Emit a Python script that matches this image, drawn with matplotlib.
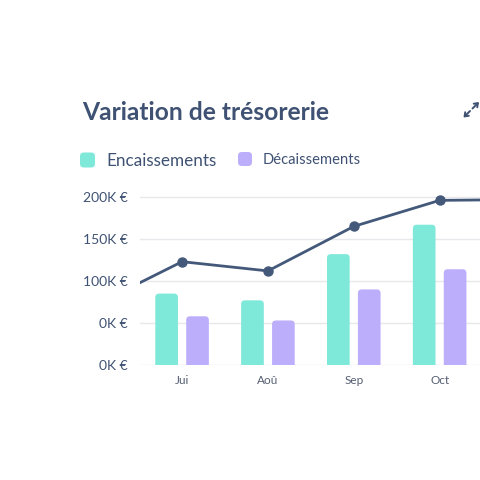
import matplotlib
matplotlib.use("Agg")
import matplotlib.pyplot as plt
from matplotlib.patches import FancyBboxPatch, FancyArrowPatch

# data
months = ["Jui", "Aoû", "Sep", "Oct"]
encaissements = [85, 77, 132, 167]      # K€
decaissements = [58, 53, 90, 114]       # K€
# solde line, one point before Jui and one after Oct (cut by the frame)
solde_x = [-1, 0, 1, 2, 3, 4]
solde = [72, 123, 112, 165, 196, 197]
ytick_vals = [0, 50, 100, 150, 200]
ytick_labels = ["0K €", "0K €", "100K €", "150K €", "200K €"]

teal = "#7ee8d9"
purple = "#bdaefb"
navy = "#44597a"
text_col = "#3f5273"
grid_col = "#e6e8ec"

plt.rcParams["font.family"] = ["Lato", "DejaVu Sans"]

fig = plt.figure(figsize=(4.8, 4.8), dpi=100)
ax = fig.add_axes([140 / 480, 1 - 365 / 480, 1 - 140 / 480, (365 - 188.6) / 480])

w = 0.264
off = 0.18
bars1 = ax.bar([i - off for i in range(len(months))], encaissements, width=w, color=teal)
bars2 = ax.bar([i + off for i in range(len(months))], decaissements, width=w, color=purple)

# swap plain bars for rounded ones (bottom pushed below 0, clipped by axes)
for bars in (bars1, bars2):
    for b in bars:
        x0, h = b.get_x(), b.get_height()
        b.set_visible(False)
        p = FancyBboxPatch((x0, -10), b.get_width(), h + 10,
                           boxstyle="round,pad=0,rounding_size=0.045",
                           mutation_aspect=100, fc=b.get_facecolor(), ec="none")
        ax.add_patch(p)

ax.plot(solde_x, solde, color=navy, lw=2, marker="o", ms=6.5, zorder=5)

ax.set_xlim(-0.49, 3.47)
ax.set_ylim(0, 210)
ax.set_yticks(ytick_vals)
ax.set_yticklabels(ytick_labels)
ax.set_xticks(range(len(months)))
ax.set_xticklabels(months)
ax.tick_params(axis="y", length=0, pad=9, labelsize=10, labelcolor=text_col)
ax.tick_params(axis="x", length=0, pad=7, labelsize=8.5, labelcolor="#555f72")
for s in ax.spines.values():
    s.set_visible(False)
ax.grid(axis="y", color=grid_col, lw=1)
ax.set_axisbelow(True)

# title
fig.text(82 / 480, 1 - 112 / 480, "Variation de trésorerie", fontsize=17.7,
         fontweight="bold", color=text_col, va="center", ha="left")

# expand icon (two diagonal arrows)
def px(x, y):
    return (x / 480, 1 - y / 480)

for start, end in [((470, 111), (463.5, 117.5)), ((472.5, 108.5), (479, 102))]:
    fig.add_artist(FancyArrowPatch(
        px(*start), px(*end), transform=fig.transFigure, shrinkA=0, shrinkB=0,
        arrowstyle="->,head_length=2.4,head_width=1.8", color=text_col, lw=1.4))

# legend
for (x, y, s, col, lab, fs) in [(80, 160, 15, teal, "Encaissements", 12.3),
                                (238, 159, 14, purple, "Décaissements", 10.6)]:
    sq = FancyBboxPatch((x / 480, 1 - (y + s / 2) / 480), s / 480, s / 480,
                        boxstyle="round,pad=0,rounding_size=0.008",
                        transform=fig.transFigure, fc=col, ec="none")
    fig.add_artist(sq)
    fig.text((x + s + 11) / 480, 1 - (y + 1) / 480, lab, fontsize=fs,
             color=text_col, va="center", ha="left")

fig.savefig("out.png", dpi=100, facecolor="white")
